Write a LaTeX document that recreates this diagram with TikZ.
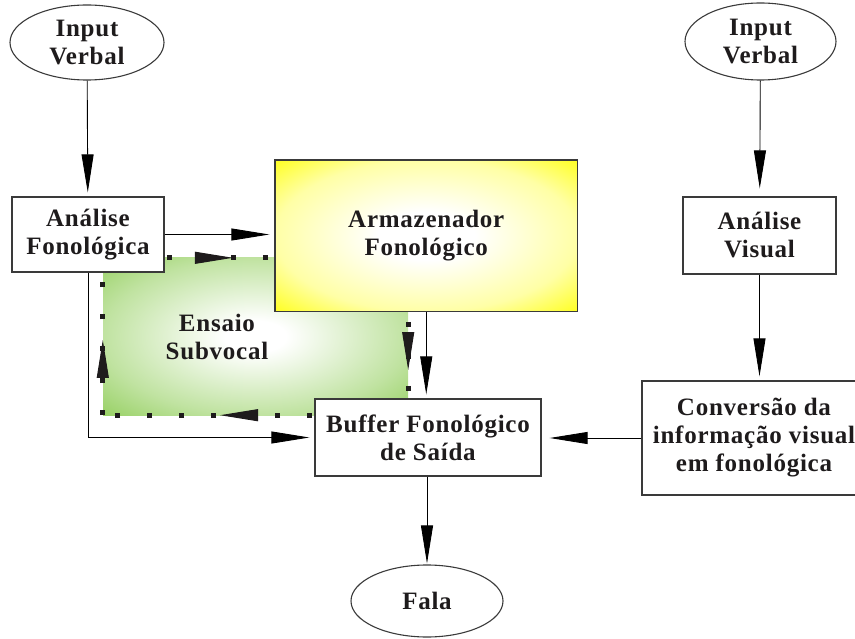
\documentclass[tikz,border=0pt]{standalone}
\usepackage{fontspec}
\setmainfont{Liberation Serif}
\usetikzlibrary{arrows.meta,decorations.markings,shapes.geometric}

\definecolor{leaf}{RGB}{146,206,92}
\definecolor{ink}{RGB}{30,27,28}
\definecolor{rim}{RGB}{58,58,58}

% soft glows: white in the middle, full colour towards the corners
\pgfdeclareradialshading{yellowglow}{\pgfpoint{0bp}{0bp}}{%
  color(0bp)=(white); color(8bp)=(white); color(25bp)=(yellow!35!white);
  color(38bp)=(yellow); color(50bp)=(yellow)}
\pgfdeclareradialshading{greenglow}{\pgfpoint{0bp}{0bp}}{%
  color(0bp)=(white); color(5bp)=(white); color(25bp)=(leaf!58!white);
  color(37bp)=(leaf); color(50bp)=(leaf)}

\begin{document}
\begin{tikzpicture}[x=1pt,y=-1pt,
  lbl/.style={font=\fontsize{25}{28}\selectfont\bfseries\addfontfeature{LetterSpace=3},
    text=ink, align=center},
  stepbox/.style={rectangle, draw=rim, line width=1.3pt, fill=white, inner sep=0pt, lbl},
  oval/.style={ellipse, draw=rim, line width=1.1pt, fill=white, inner sep=0pt, lbl},
  link/.style={draw=black, line width=0.9pt, -{Triangle[length=38pt,width=12pt]}},
  rehearse/.style={draw=ink, line width=5pt, dash pattern=on 5pt off 27pt,
    postaction={decorate}},
  tipat/.style={decoration={markings,
    mark=at position #1 with {\arrow[line width=1pt]{Triangle[length=38pt,width=12pt]}}}}
]
\useasboundingbox (0,0) rectangle (855,639);

% rehearsal region and its loop
\node[rectangle, inner sep=0pt, minimum width=305pt, minimum height=157pt,
      shading=greenglow] (ensbox) at (255.5,336.5) {};
\draw[rehearse, tipat=0.426] (ensbox.north west) -- (ensbox.north east);
\draw[rehearse, tipat=0.713] (ensbox.north east) -- (ensbox.south east);
\draw[rehearse, tipat=0.616] (ensbox.south east) -- (ensbox.south west);
\draw[rehearse, tipat=0.478] (ensbox.south west) -- (ensbox.north west);
\node[lbl] (ens) at (217,337) {Ensaio\\Subvocal};

% verbal route
\node[oval, minimum width=154pt, minimum height=75pt] (inL) at (87,42.5) {Input\\Verbal};
\node[stepbox, minimum width=152pt, minimum height=75pt] (anaF) at (88,234.5) {Análise\\Fonológica};
\node[stepbox, shading=yellowglow, minimum width=302.5pt, minimum height=151.5pt]
  (arm) at (426.25,235.75) {Armazenador\\Fonológico};
\node[stepbox, minimum width=226pt, minimum height=77pt] (buf) at (428,437.5) {Buffer Fonológico\\de Saída};
\node[oval, minimum width=152pt, minimum height=72pt] (fala) at (427,601) {Fala};

% visual route
\node[oval, minimum width=151pt, minimum height=77pt] (inR) at (760.5,41.5) {Input\\Verbal};
\node[stepbox, minimum width=153pt, minimum height=77pt] (anaV) at (759.5,235.5) {Análise\\Visual};
\node[stepbox, minimum width=224pt, minimum height=114pt] (conv) at (754,438)
  {Conversão da\\informação visual\\em fonológica};

% connectors
\draw[link, shorten >=4pt] (inL) -- (anaF);
\draw[link, shorten >=5pt] (anaF.east) -- (anaF.east -| arm.west);
\draw[link, shorten >=5pt] (anaF.south) |- (buf.west);
\draw[link, shorten >=4pt] (arm.south) -- (arm.south |- buf.north);
\draw[link, shorten >=1pt] (buf.south -| fala.north) -- (fala.north);
\draw[link, shorten >=8pt] (inR) -- (anaV);
\draw[link, shorten >=4pt] (anaV.south) -- (anaV.south |- conv.north);
\draw[link, shorten >=8pt] (conv.west) -- (conv.west -| buf.east);
\end{tikzpicture}
\end{document}
